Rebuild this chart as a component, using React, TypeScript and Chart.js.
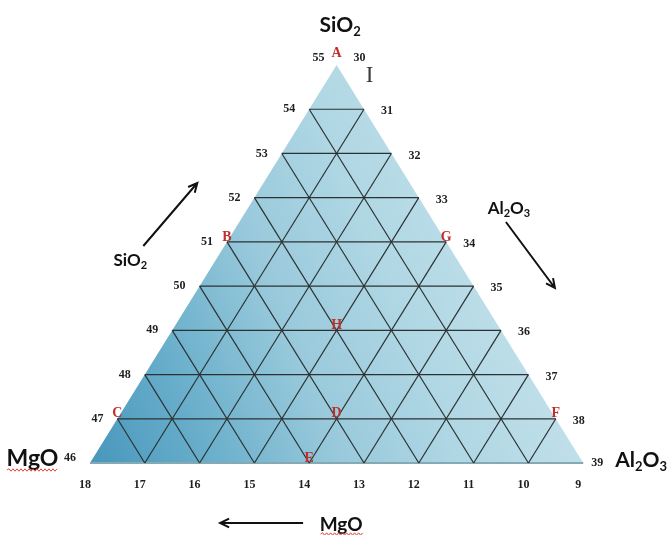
import React, { useEffect, useRef } from 'react';
import { Chart, registerables } from 'chart.js';

Chart.register(...registerables);

// ---- data ----
const sio2Ticks = [55, 54, 53, 52, 51, 50, 49, 48, 47, 46]; // left side
const al2o3Ticks = [30, 31, 32, 33, 34, 35, 36, 37, 38, 39]; // right side
const mgoTicks = [18, 17, 16, 15, 14, 13, 12, 11, 10, 9]; // bottom

const pointNames = ['A', 'B', 'C', 'D', 'E', 'F', 'G', 'H'];
const pointSiO2 = [55, 51, 47, 47, 46, 47, 51, 49];
const pointAl2O3 = [30, 30, 30, 34, 34, 38, 34, 33];
const pointMgO = [9, 13, 17, 13, 14, 9, 9, 12];

const N = sio2Ticks.length - 1;
const SI_MIN = Math.min(...sio2Ticks);
const AL_MIN = Math.min(...al2o3Ticks);
const MG_MIN = Math.min(...mgoTicks);

// ternary -> cartesian (units of grid divisions)
function toXY(si: number, al: number, mg: number) {
  const h = si - SI_MIN;
  const dL = al - AL_MIN;
  void mg;
  return { x: dL + h / 2, y: h };
}

const LINE = '#2b3233';

function buildDatasets() {
  const ds: any[] = [];
  ds.push({
    data: [
      { x: 0, y: 0 },
      { x: N, y: 0 },
      { x: N / 2, y: N },
      { x: 0, y: 0 },
    ],
    showLine: true,
    fill: 'shape',
    borderWidth: 0,
    borderColor: 'rgba(0,0,0,0)',
    pointRadius: 0,
    order: 10,
    backgroundColor: (c: any) => {
      const chart = c.chart;
      const { ctx, chartArea, scales } = chart;
      if (!chartArea || !scales.x) return '#9ccbdc';
      const x0 = scales.x.getPixelForValue(0) - 30;
      const y0 = scales.y.getPixelForValue(0) + 7;
      const g = ctx.createLinearGradient(x0, y0, x0 + 540, y0 - 220);
      g.addColorStop(0, '#3f90b8');
      g.addColorStop(0.25, '#6aafcb');
      g.addColorStop(0.45, '#98c9db');
      g.addColorStop(0.65, '#b0d7e4');
      g.addColorStop(1, '#cde7ef');
      return g;
    },
  });
  ds.push({
    data: [
      { x: 0, y: 0 },
      { x: N, y: 0 },
    ],
    showLine: true,
    borderColor: '#86aab4',
    borderWidth: 2,
    pointRadius: 0,
    order: 5,
  });
  for (let k = 1; k < N; k++) {
    const segs = [
      [{ x: k / 2, y: k }, { x: N - k / 2, y: k }],
      [{ x: k, y: 0 }, { x: k + (N - k) / 2, y: N - k }],
      [{ x: N - k, y: 0 }, { x: (N - k) / 2, y: N - k }],
    ];
    segs.forEach((s) =>
      ds.push({
        data: s,
        showLine: true,
        borderColor: LINE,
        borderWidth: 1.2,
        pointRadius: 0,
        order: 1,
      })
    );
  }
  return ds;
}

function drawChem(ctx: CanvasRenderingContext2D, parts: [string, boolean][], x: number, baseline: number, size: number, align: 'center' | 'left') {
  const big = `bold ${size}px Lato`;
  const small = `bold ${Math.round(size * 0.62)}px Lato`;
  let w = 0;
  parts.forEach(([t, sub]) => {
    ctx.font = sub ? small : big;
    w += ctx.measureText(t).width;
  });
  let cx = align === 'center' ? x - w / 2 : x;
  ctx.textAlign = 'left';
  ctx.textBaseline = 'alphabetic';
  parts.forEach(([t, sub]) => {
    ctx.font = sub ? small : big;
    ctx.fillText(t, cx, sub ? baseline + size * 0.18 : baseline);
    cx += ctx.measureText(t).width;
  });
}

function arrow(ctx: CanvasRenderingContext2D, x1: number, y1: number, x2: number, y2: number) {
  ctx.beginPath();
  ctx.moveTo(x1, y1);
  ctx.lineTo(x2, y2);
  const a = Math.atan2(y2 - y1, x2 - x1);
  const L = 10;
  const s = 0.45;
  ctx.moveTo(x2 - L * Math.cos(a - s), y2 - L * Math.sin(a - s));
  ctx.lineTo(x2, y2);
  ctx.lineTo(x2 - L * Math.cos(a + s), y2 - L * Math.sin(a + s));
  ctx.stroke();
}

function wavy(ctx: CanvasRenderingContext2D, x1: number, x2: number, y: number) {
  ctx.save();
  ctx.strokeStyle = '#e0403a';
  ctx.lineWidth = 1;
  ctx.beginPath();
  let up = true;
  ctx.moveTo(x1, y);
  for (let x = x1 + 2; x <= x2; x += 2) {
    ctx.lineTo(x, up ? y - 1.2 : y + 1.2);
    up = !up;
  }
  ctx.stroke();
  ctx.restore();
}

const annotPlugin = {
  id: 'annot',
  afterDatasetsDraw(chart: any) {
    const { ctx } = chart;
    const sx = chart.scales.x;
    const sy = chart.scales.y;
    const px = (v: number) => sx.getPixelForValue(v);
    const py = (v: number) => sy.getPixelForValue(v);
    const BL = { x: px(0), y: py(0) };
    const BR = { x: px(N), y: py(0) };
    const AP = { x: px(N / 2), y: py(N) };
    const LM = { x: px(N / 4), y: py(N / 2) };
    const RM = { x: px((3 * N) / 4), y: py(N / 2) };
    const BM = { x: px(N / 2), y: py(0) };

    ctx.save();
    // tick numbers
    ctx.font = 'bold 12px "Liberation Serif"';
    ctx.fillStyle = '#1e1e1e';
    ctx.textAlign = 'center';
    ctx.textBaseline = 'middle';
    sio2Ticks.forEach((v) => {
      const h = v - SI_MIN;
      const dy = h === N ? -7 : h === 0 ? -5 : 0;
      const dx = h === N ? -18 : -20;
      ctx.fillText(String(v), px(h / 2) + dx, py(h) + dy);
    });
    al2o3Ticks.forEach((v) => {
      const dL = v - AL_MIN;
      const h = N - dL;
      const dy = h === N ? -7 : h === 0 ? 0 : 2;
      const dx = h === 0 ? 14 : 23;
      ctx.fillText(String(v), px(dL + h / 2) + dx, py(h) + dy);
    });
    mgoTicks.forEach((v) => {
      const dR = v - MG_MIN;
      ctx.fillText(String(v), px(N - dR) - 5, py(0) + 22);
    });

    // point letters
    ctx.font = 'bold 14px "Liberation Serif"';
    ctx.fillStyle = '#c0302a';
    pointNames.forEach((name, i) => {
      const p = toXY(pointSiO2[i], pointAl2O3[i], pointMgO[i]);
      const atApex = p.y === N;
      ctx.fillText(name, px(p.x), py(p.y) + (atApex ? -12 : -5));
    });

    // cursor glyph
    ctx.fillStyle = '#3a3a3a';
    ctx.font = '23px "Liberation Serif"';
    ctx.textBaseline = 'alphabetic';
    ctx.fillText('I', AP.x + 33, AP.y + 17);

    // titles
    ctx.fillStyle = '#111';
    drawChem(ctx, [['SiO', false], ['2', true]], AP.x + 3.5, AP.y - 33, 21, 'center');
    drawChem(ctx, [['MgO', false]], BL.x - 57.5, BL.y + 3, 23, 'center');
    drawChem(ctx, [['Al', false], ['2', true], ['O', false], ['3', true]], BR.x + 32, BR.y + 4, 21, 'left');
    drawChem(ctx, [['SiO', false], ['2', true]], LM.x - 83, LM.y + 2, 17, 'center');
    drawChem(ctx, [['Al', false], ['2', true], ['O', false], ['3', true]], RM.x + 49, RM.y - 50, 17, 'center');
    drawChem(ctx, [['MgO', false]], BM.x + 4.5, BM.y + 68, 19, 'center');

    wavy(ctx, BL.x - 83, BL.x - 32, BL.y + 7);
    wavy(ctx, BM.x - 16, BM.x + 26, BM.y + 71);

    // arrows
    ctx.strokeStyle = '#111';
    ctx.lineWidth = 2;
    arrow(ctx, LM.x - 70, LM.y - 18, LM.x - 16, LM.y - 81);
    arrow(ctx, RM.x + 46, RM.y - 42, RM.x + 95, RM.y + 24);
    arrow(ctx, BM.x - 33.5, BM.y + 60, BM.x - 116.5, BM.y + 60);
    ctx.restore();
  },
};

export default function App() {
  const ref = useRef<HTMLCanvasElement | null>(null);
  useEffect(() => {
    if (!ref.current) return;
    const chart = new Chart(ref.current, {
      type: 'scatter',
      data: { datasets: buildDatasets() },
      options: {
        animation: false,
        responsive: false,
        devicePixelRatio: 1,
        layout: { padding: 0 },
        plugins: { legend: { display: false }, tooltip: { enabled: false } },
        events: [],
        scales: {
          x: { type: 'linear', display: false, min: -1.642, max: 10.547 },
          y: { type: 'linear', display: false, min: -1.628, max: 10.47 },
        },
      },
      plugins: [annotPlugin],
    });
    return () => chart.destroy();
  }, []);
  return (
    <div style={{ position: 'fixed', left: 0, top: 0, width: 668, height: 535, background: '#fff' }}>
      <canvas ref={ref} width={668} height={535} style={{ display: 'block' }} />
    </div>
  );
}
